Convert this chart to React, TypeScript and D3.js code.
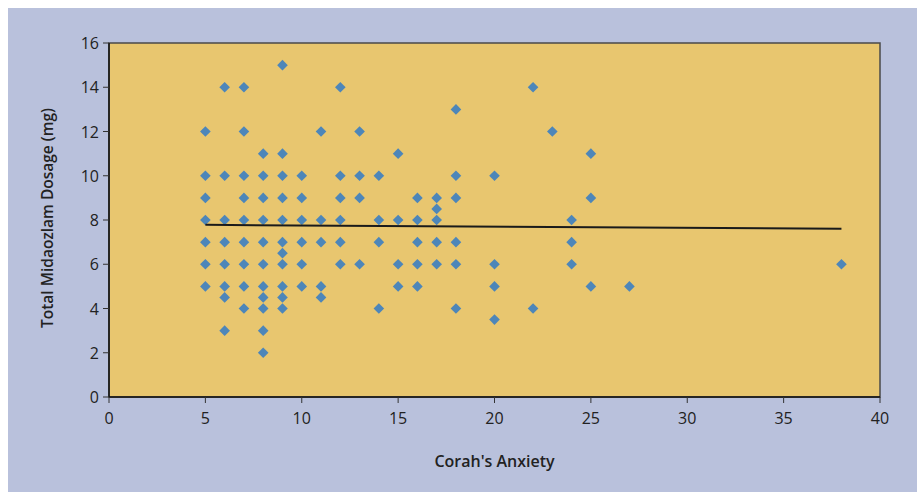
import React from "react";
import * as d3 from "d3";

// Corah's Anxiety (x) vs Total Midazolam Dosage (y)
const anxiety: number[] = [
  5, 5, 5, 5, 5, 5, 5,
  6, 6, 6, 6, 6, 6, 6, 6,
  7, 7, 7, 7, 7, 7, 7, 7, 7,
  8, 8, 8, 8, 8, 8, 8, 8, 8, 8, 8,
  9, 9, 9, 9, 9, 9, 9, 9, 9, 9, 9,
  10, 10, 10, 10, 10, 10,
  11, 11, 11, 11, 11,
  12, 12, 12, 12, 12, 12,
  13, 13, 13, 13,
  14, 14, 14, 14,
  15, 15, 15, 15,
  16, 16, 16, 16, 16,
  17, 17, 17, 17, 17,
  18, 18, 18, 18, 18, 18,
  20, 20, 20, 20,
  22, 22,
  23,
  24, 24, 24,
  25, 25, 25,
  27,
  38,
];
const dosage: number[] = [
  12, 10, 9, 8, 7, 6, 5,
  14, 10, 8, 7, 6, 5, 4.5, 3,
  14, 12, 10, 9, 8, 7, 6, 5, 4,
  11, 10, 9, 8, 7, 6, 5, 4.5, 4, 3, 2,
  15, 11, 10, 9, 8, 7, 6.5, 6, 5, 4.5, 4,
  10, 9, 8, 7, 6, 5,
  12, 8, 7, 5, 4.5,
  14, 10, 9, 8, 7, 6,
  12, 10, 9, 6,
  10, 8, 7, 4,
  11, 8, 6, 5,
  9, 8, 7, 6, 5,
  9, 8.5, 8, 7, 6,
  13, 10, 9, 7, 6, 4,
  10, 6, 5, 3.5,
  14, 4,
  12,
  8, 7, 6,
  11, 9, 5,
  5,
  6,
];
const trendX: number[] = [5, 38];
const trendY: number[] = [7.78, 7.6];
const xTicks: number[] = [0, 5, 10, 15, 20, 25, 30, 35, 40];
const yTicks: number[] = [0, 2, 4, 6, 8, 10, 12, 14, 16];
const xTitle = "Corah's Anxiety";
const yTitle = "Total Midaozlam Dosage (mg)";

export default function App() {
  const W = 921;
  const H = 492;
  const left = 109;
  const right = 880;
  const top = 43;
  const bottom = 397;
  const x = d3.scaleLinear().domain([0, 40]).range([left, right]);
  const y = d3.scaleLinear().domain([0, 16]).range([bottom, top]);
  const diamond = d3.symbol().type(d3.symbolDiamond2).size(72)();
  const line = d3
    .line<number>()
    .x((_, i) => x(trendX[i]))
    .y((d) => y(d));
  const titleFont = "'Open Sans', 'Noto Sans', sans-serif";
  return (
    <svg
      width={W}
      height={H}
      style={{ position: "absolute", left: 0, top: 0, display: "block" }}
    >
      <rect x={0} y={0} width={W} height={H} fill="#ffffff" />
      <rect x={8} y={8} width={909} height={H - 8} fill="#b9c1dc" />
      <rect
        x={left}
        y={top}
        width={right - left}
        height={bottom - top}
        fill="#e8c66f"
        stroke="#4a4a4a"
        strokeWidth={1.5}
      />
      {anxiety.map((a, i) => (
        <path
          key={i}
          d={diamond || ""}
          transform={`translate(${x(a)},${y(dosage[i])})`}
          fill="#4d86b9"
        />
      ))}
      <path d={line(trendY) || ""} fill="none" stroke="#1a1a1a" strokeWidth={2} />
      <line x1={left} x2={left} y1={top} y2={bottom} stroke="#111" strokeWidth={1.5} />
      <line x1={left} x2={right} y1={bottom} y2={bottom} stroke="#111" strokeWidth={1.5} />
      {yTicks.map((t) => (
        <g key={"y" + t}>
          <line x1={left - 6} x2={left} y1={y(t)} y2={y(t)} stroke="#333" strokeWidth={1} />
          <text
            x={left - 10}
            y={y(t)}
            textAnchor="end"
            dominantBaseline="central"
            fontFamily={titleFont}
            fontSize={16}
            fill="#222"
          >
            {t}
          </text>
        </g>
      ))}
      {xTicks.map((t) => (
        <g key={"x" + t}>
          <line x1={x(t)} x2={x(t)} y1={bottom} y2={bottom + 6} stroke="#333" strokeWidth={1} />
          <text
            x={x(t)}
            y={bottom + 21}
            textAnchor="middle"
            dominantBaseline="central"
            fontFamily={titleFont}
            fontSize={16}
            fill="#222"
          >
            {t}
          </text>
        </g>
      ))}
      <text
        x={(left + right) / 2}
        y={461}
        textAnchor="middle"
        dominantBaseline="central"
        fontFamily={titleFont}
        fontSize={16}
        fontWeight={600}
        fill="#222"
      >
        {xTitle}
      </text>
      <text
        transform={`translate(47,218) rotate(-90)`}
        textAnchor="middle"
        dominantBaseline="central"
        fontFamily={titleFont}
        fontSize={15.5}
        fontWeight={600}
        fill="#222"
      >
        {yTitle}
      </text>
    </svg>
  );
}
